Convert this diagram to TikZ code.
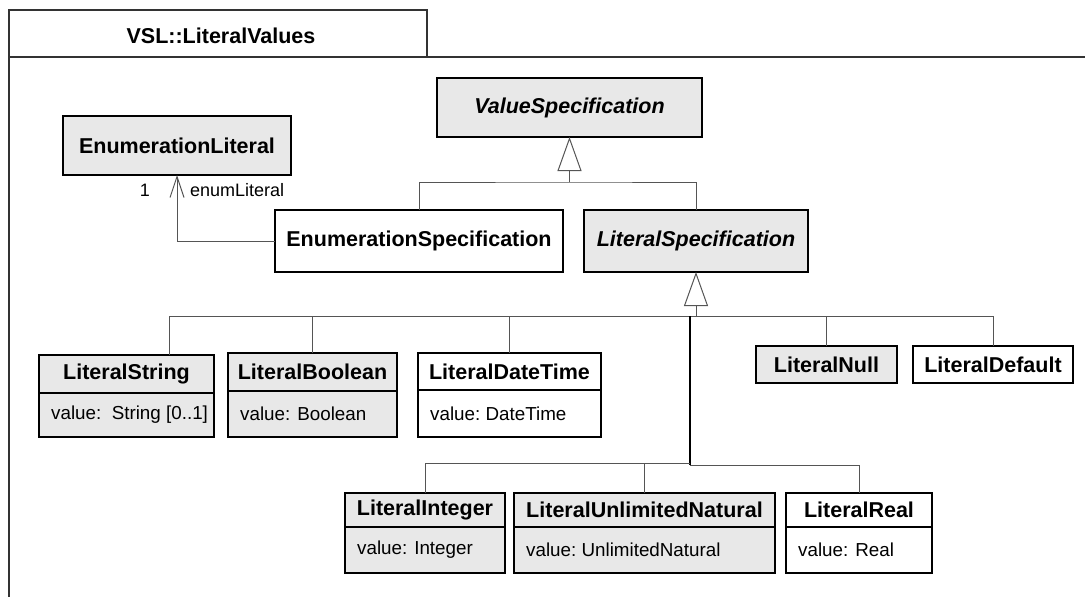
\documentclass[tikz,border=0pt]{standalone}
\usepackage{fontspec}
\setmainfont{Liberation Sans}
\usetikzlibrary{arrows.meta}
\definecolor{clsfill}{HTML}{E8E8E8}
\definecolor{linegray}{HTML}{555555}
\definecolor{framegray}{HTML}{333333}
\tikzset{
  cls/.style={draw=black, line width=1.3pt, rectangle, inner sep=0pt, outer sep=0pt},
  gfill/.style={fill=clsfill},
  wfill/.style={fill=white},
  cname/.style={font=\fontsize{21.5}{24}\selectfont\bfseries, inner sep=0pt},
  cnamei/.style={font=\fontsize{21.5}{24}\selectfont\bfseries\itshape, inner sep=0pt},
  cattr/.style={font=\fontsize{18.8}{22}\selectfont, inner sep=0pt, anchor=west},
  lbl/.style={font=\fontsize{18}{22}\selectfont, inner sep=0pt},
  conn/.style={draw=linegray, line width=1pt},
  trunk/.style={draw=black, line width=1.3pt},
  gen/.style={draw=linegray, line width=1pt, -{Triangle[open, length=34pt, width=24pt, fill=white]}},
  assoc/.style={draw=linegray, line width=1pt, -{Straight Barb[length=21pt, width=14pt]}},
  frame/.style={draw=framegray, line width=1.5pt},
}
\newcommand\twobox[9]{%
  \node[cls,#7,minimum width={#4-#2},minimum height={#5-#3}] (#1) at ({(#2+#4)/2},{(#3+#5)/2}) {};
  \draw[line width=1.3pt] (#2,#6) -- (#4,#6);
  \node[cname] (#1-t) at ({(#2+#4)/2},{(#3+#6)/2}) {#8};
  \node[cattr] (#1-a) at ({#2+12},{(#6+#5)/2}) {#9};
}
\newcommand\onebox[7]{%
  \node[cls,#6,minimum width={#4-#2},minimum height={#5-#3}] (#1) at ({(#2+#4)/2},{(#3+#5)/2}) {#7};
}
\begin{document}
\begin{tikzpicture}[x=1pt,y=-1pt]
\useasboundingbox (0,0) rectangle (1085,597);
% frame
\draw[frame] (9,597) -- (9,10) -- (427,10) -- (427,57);
\draw[frame] (9,57) -- (1085,57);
\node[cname] (title) at (221,36) {VSL::LiteralValues};

% classes
\onebox{el}{63}{116}{291}{175}{gfill,cname}{EnumerationLiteral}
\onebox{vs}{437}{78}{702}{137}{gfill,cnamei}{ValueSpecification}
\onebox{es}{275}{210}{563}{272}{wfill,cname}{EnumerationSpecification}
\onebox{lsp}{584}{210}{808}{272}{gfill,cnamei}{LiteralSpecification}

\twobox{ls}{39}{355}{214}{437}{393}{gfill}{LiteralString}{value:\ \ String [0..1]}
\twobox{lb}{228}{353}{397}{437}{391}{gfill}{LiteralBoolean}{value: Boolean}
\twobox{ldt}{418}{353}{601}{437}{390}{wfill}{LiteralDateTime}{value:\ DateTime}
\onebox{ln}{756}{346}{897}{383}{gfill,cname}{LiteralNull}
\onebox{ld}{913}{346}{1073}{383}{wfill,cname}{LiteralDefault}

\twobox{li}{345}{493}{505}{573}{527}{gfill}{LiteralInteger}{value: Integer}
\twobox{lun}{514}{493}{775}{573}{527}{gfill}{LiteralUnlimitedNatural}{value:\ UnlimitedNatural}
\twobox{lr}{786}{493}{932}{573}{527}{wfill}{LiteralReal}{value: Real}

% generalization to ValueSpecification
\coordinate (g1) at (569.5,182);
\draw[gen] (g1) -- (vs.south);
\draw[conn] (es.north) |- (g1) -| (lsp.north);

% association
\draw[assoc] (es.west) -| (el.south);
\node[lbl] (m1) at (145,190) {1};
\node[lbl, anchor=west] (rn) at (190,190) {enumLiteral};

% generalization to LiteralSpecification
\coordinate (g2) at (696,316);
\coordinate (lsj) at (169,316);
\draw[gen] (g2) -- (lsp.south);
\draw[conn] (lsj |- ls.north) -- (lsj) -- (ld.north |- g2) -- (ld.north);
\draw[conn] (lb.north) -- (lb.north |- g2);
\draw[conn] (ldt.north) -- (ldt.north |- g2);
\draw[conn] (ln.north) -- (ln.north |- g2);
\coordinate (t0) at (690,316);
\coordinate (t1) at (690,463);
\coordinate (t2) at (690,465);
\draw[trunk] (t0) -- (t2);
\draw[conn] (t1) -| (li.north);
\draw[conn] (lun.north) -- (lun.north |- t1);
\draw[conn] (t2) -| (lr.north);
\end{tikzpicture}
\end{document}
